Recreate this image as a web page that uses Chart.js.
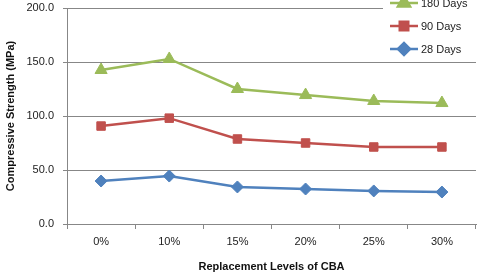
<!DOCTYPE html>
<html>
<head>
<meta charset="utf-8">
<script src="https://cdn.jsdelivr.net/npm/chart.js@4"></script>
<style>
  html, body { margin: 0; padding: 0; background: #fff; }
  #wrap { width: 490px; height: 278px; position: relative; }
</style>
</head>
<body>
<div id="wrap"><canvas id="strengthChart"></canvas></div>
<script>
// data
const levels = ['0%', '10%', '15%', '20%', '25%', '30%'];
const days180 = [142.6, 152.8, 125.0, 119.4, 113.9, 112.0];
const days90 = [90.7, 98.0, 78.7, 75.0, 71.3, 71.3];
const days28 = [39.8, 44.4, 34.3, 32.4, 30.6, 29.6];
const seriesNames = ['180 Days', '90 Days', '28 Days'];
const yTicks = [0, 50, 100, 150, 200];

const FONT = '"Liberation Sans", Arial, sans-serif';
const GRID = '#878787';

function makeSet(label, data, color, style, radius) {
    return {
        label: label,
        data: data,
        borderColor: color,
        backgroundColor: color,
        borderWidth: 2.5,
        pointStyle: style,
        pointRadius: radius,
        pointHoverRadius: radius,
        pointBorderWidth: 1,
        tension: 0
    };
}

// legend drawn by hand so it can sit over the plot top-right like the original
const cornerLegend = {
    id: 'cornerLegend',
    afterDraw(chart) {
        const ctx = chart.ctx;
        ctx.save();
        ctx.fillStyle = '#fff';
        ctx.fillRect(383, 0, 107, 57);
        chart.data.datasets.forEach((ds, i) => {
            const y = 3 + i * 23;
            ctx.strokeStyle = ds.borderColor;
            ctx.lineWidth = 2.5;
            ctx.beginPath();
            ctx.moveTo(390, y);
            ctx.lineTo(418, y);
            ctx.stroke();
            Chart.helpers.drawPoint(ctx, {
                pointStyle: ds.pointStyle,
                radius: ds.pointRadius,
                borderWidth: 1
            }, 404, y);
            ctx.fillStyle = ds.borderColor;
            ctx.fill();
            ctx.fillStyle = '#222';
            ctx.font = '11px ' + FONT;
            ctx.textBaseline = 'middle';
            ctx.textAlign = 'left';
            ctx.fillText(ds.label, 421, y + 1);
        });
        ctx.restore();
    }
};

new Chart(document.getElementById('strengthChart').getContext('2d'), {
    type: 'line',
    data: {
        labels: levels,
        datasets: [
            makeSet(seriesNames[0], days180, '#9BBB59', 'triangle', 7),
            makeSet(seriesNames[1], days90, '#C0504D', 'rect', 6),
            makeSet(seriesNames[2], days28, '#4F81BD', 'rectRot', 6)
        ]
    },
    options: {
        responsive: true,
        maintainAspectRatio: false,
        animation: false,
        layout: { padding: { left: 0, right: 14, top: 8, bottom: 0 } },
        plugins: {
            legend: { display: false },
            tooltip: { enabled: false }
        },
        scales: {
            x: {
                offset: true,
                grid: { offset: true, drawOnChartArea: false, drawTicks: true, tickLength: 5, color: GRID },
                border: { color: GRID, width: 1 },
                ticks: { color: '#222', font: { family: FONT, size: 11 }, padding: 6, maxRotation: 0 },
                title: {
                    display: true,
                    text: 'Replacement Levels of CBA',
                    color: '#111',
                    font: { family: FONT, size: 11, weight: 'bold' },
                    padding: { top: 8 }
                },
                afterFit(scale) {
                    scale.height = 54;
                    scale.paddingLeft = 0;
                    scale.paddingRight = 0;
                }
            },
            y: {
                min: 0,
                max: 200,
                afterBuildTicks(scale) { scale.ticks = yTicks.map(v => ({ value: v })); },
                grid: { color: GRID, lineWidth: 1, tickLength: 4 },
                border: { color: GRID, width: 1 },
                ticks: {
                    color: '#222',
                    font: { family: FONT, size: 11 },
                    padding: 9,
                    callback: v => v.toFixed(1)
                },
                title: {
                    display: true,
                    text: 'Compressive Strength (MPa)',
                    color: '#111',
                    font: { family: FONT, size: 11, weight: 'bold' },
                    padding: { top: 4, bottom: 2 }
                },
                afterFit(scale) {
                    scale.width = 67;
                    scale.paddingTop = 0;
                    scale.paddingBottom = 0;
                }
            }
        }
    },
    plugins: [cornerLegend]
});
</script>
</body>
</html>
